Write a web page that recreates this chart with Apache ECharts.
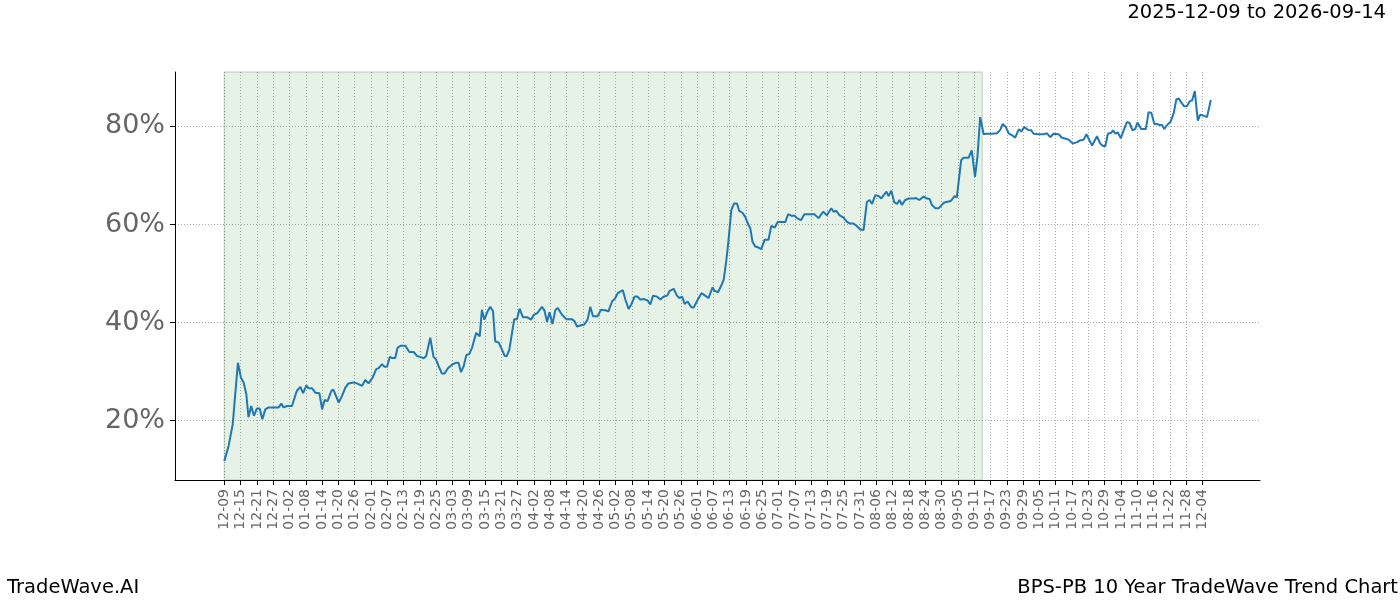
<!DOCTYPE html>
<html>
<head>
<meta charset="utf-8">
<script src="https://cdn.jsdelivr.net/npm/echarts@6/dist/echarts.min.js"></script>
<style>
html,body{margin:0;padding:0;background:#fff;}
#chart{width:1400px;height:600px;}
</style>
</head>
<body>
<div id="chart"></div>
<script>
// Day offsets from 2025-12-09
const days = [0,1.6,3.1,5.0,6.1,7.1,8.1,8.9,9.9,10.9,12.0,13.0,14.0,15.1,16.3,20.0,21.0,21.8,23.1,24.9,
26.7,28.0,29.0,30.2,31.0,32.3,33.5,35.0,36.0,36.9,38.0,39.4,40.2,42.1,43.3,44.5,45.7,47.6,48.8,50.7,
51.9,53.1,54.6,55.9,56.8,58.0,59.0,59.9,60.9,61.7,62.9,63.8,65.0,66.6,68.1,69.7,70.9,72.1,73.4,74.3,
75.8,77.0,77.9,78.9,80.1,81.0,82.3,84.0,85.2,86.2,87.1,88.1,89.1,90.2,91.2,92.7,94.0,94.8,95.7,96.9,
97.9,98.9,99.7,101.0,102.2,103.2,104.0,104.9,105.9,106.7,107.7,108.7,109.9,111.4,112.9,113.8,115.3,116.9,117.8,118.8,
119.7,120.8,121.8,122.7,124.3,125.9,127.9,128.9,129.8,131.0,132.5,133.7,134.7,135.7,137.4,138.6,140.2,141.4,142.7,143.9,
144.8,146.7,147.6,148.8,149.8,151.0,152.1,153.1,154.6,155.8,156.8,157.8,159.2,160.5,161.7,163.0,163.8,165.4,166.6,167.5,
168.5,169.4,170.5,171.8,172.7,174.3,175.6,177.0,178.2,179.7,180.4,181.7,182.8,183.8,184.8,185.6,186.6,187.6,188.7,189.5,
190.7,191.7,192.7,193.6,194.4,195.4,196.6,197.6,198.9,200.3,201.3,202.6,203.7,205.0,206.5,207.5,208.7,209.9,210.8,212.3,
213.5,215.1,217.2,218.7,220.4,221.8,223.4,224.3,225.2,226.4,227.9,229.1,230.3,231.6,232.8,234.0,235.3,236.5,237.5,238.4,
239.6,240.8,241.8,242.7,243.7,244.5,245.5,246.6,247.6,248.5,249.4,250.6,251.9,253.7,254.6,255.8,257.4,258.6,259.6,260.4,
261.7,262.9,264.1,265.0,267.4,268.8,269.6,271.2,272.0,273.9,274.5,275.1,276.3,277.2,278.2,279.5,280.7,282.6,284.4,285.6,
286.5,287.5,288.7,290.0,291.1,292.4,293.4,294.5,295.8,297.0,297.9,299.7,301.6,302.8,304.0,305.2,307.1,308.3,309.8,311.0,
312.3,313.9,315.1,316.3,317.3,318.4,319.4,321.2,322.4,323.4,324.3,325.2,326.4,327.1,328.0,328.8,330.0,331.0,332.2,333.2,
334.3,335.3,336.1,337.4,339.2,340.2,341.2,342.3,343.3,344.3,345.1,346.0,347.0,348.2,349.4,350.4,351.3,352.2,353.3,354.3,
355.3,356.2,357.2,358.3,359.2,360.4,361.7,362.3,363.1];
const values = [11.8,14.9,19.3,31.8,28.8,27.8,25.4,20.7,23.0,21.0,22.5,22.5,20.3,22.3,22.7,22.7,23.5,22.7,23.0,23.0,
26.1,26.9,25.6,27.2,26.6,26.6,25.7,25.6,22.3,24.2,24.0,26.1,26.3,23.7,25.0,26.7,27.6,27.8,27.6,27.1,
28.3,27.6,28.8,30.5,30.7,31.5,31.0,31.0,33.0,32.8,32.8,34.9,35.3,35.3,34.0,34.0,33.2,33.0,32.7,33.2,
36.9,33.0,32.5,31.1,29.6,29.6,30.7,31.5,31.8,31.8,29.9,31.1,33.4,33.6,34.9,37.9,37.2,42.6,40.6,42.3,
43.2,42.3,36.2,35.9,34.5,33.2,33.2,34.5,37.9,40.7,40.7,42.8,41.1,41.1,40.6,41.5,42.0,43.2,42.5,40.1,
42.1,39.7,42.5,43.0,41.6,40.7,40.7,40.3,39.2,39.4,39.6,40.6,43.2,41.3,41.3,42.6,42.5,42.3,44.3,45.0,
46.0,46.6,44.7,42.8,43.7,45.3,45.3,44.7,44.8,44.5,43.7,45.5,45.3,44.7,45.3,45.5,46.4,46.9,45.5,45.0,
45.3,43.8,44.3,43.2,43.0,44.7,46.0,45.5,45.0,47.2,46.5,46.2,47.4,48.7,52.8,56.9,62.9,64.3,64.3,62.8,
62.4,61.6,60.2,59.2,56.5,55.5,55.3,55.0,56.9,56.9,59.7,59.4,60.5,60.5,60.5,62.1,61.8,61.8,61.3,60.9,
62.1,62.1,62.1,61.3,62.6,61.9,63.3,62.6,62.8,61.9,61.4,60.6,60.2,60.2,59.7,59.0,58.9,64.6,65.0,64.2,
66.0,65.8,65.3,66.0,66.7,65.8,66.9,64.5,64.2,65.0,64.0,65.0,65.3,65.3,65.4,65.0,65.7,65.3,65.2,64.0,
63.3,63.3,64.0,64.5,64.8,65.8,65.5,73.1,73.6,73.6,73.7,75.1,69.7,73.8,81.9,78.4,78.5,78.5,78.6,79.3,
80.5,80.0,78.6,78.2,77.7,79.4,79.0,79.9,79.3,79.2,78.5,78.4,78.4,78.6,77.8,78.5,78.4,77.7,77.5,77.2,
76.5,76.8,77.2,77.3,78.4,77.2,76.1,78.0,76.5,76.0,76.0,78.5,78.7,79.2,78.5,78.8,77.6,79.2,80.9,80.7,
79.2,79.5,80.8,79.5,79.5,82.9,82.8,80.5,80.5,80.3,80.3,79.5,80.3,80.9,82.6,85.5,85.7,84.9,84.1,84.1,
85.1,85.3,87.2,81.2,82.4,82.2,81.9,81.9,85.4];

const tickLabels = ['12-09','12-15','12-21','12-27','01-02','01-08','01-14','01-20','01-26','02-01',
'02-07','02-13','02-19','02-25','03-03','03-09','03-15','03-21','03-27','04-02','04-08','04-14',
'04-20','04-26','05-02','05-08','05-14','05-20','05-26','06-01','06-07','06-13','06-19','06-25',
'07-01','07-07','07-13','07-19','07-25','07-31','08-06','08-12','08-18','08-24','08-30','09-05',
'09-11','09-17','09-23','09-29','10-05','10-11','10-17','10-23','10-29','11-04','11-10','11-16',
'11-22','11-28','12-04'];
const tickDays = tickLabels.map((_, i) => i * 6);
const yTicks = [20, 40, 60, 80];
const shadeStart = 0, shadeEnd = 279; // 2025-12-09 .. 2026-09-14
const titleText = '2025-12-09 to 2026-09-14';
const leftFooter = 'TradeWave.AI';
const rightFooter = 'BPS-PB 10 Year TradeWave Trend Chart';

const chart = echarts.init(document.getElementById('chart'), null, {renderer: 'canvas'});
const font = 'DejaVu Sans';
chart.setOption({
  animation: false,
  backgroundColor: '#ffffff',
  grid: {left: 175, right: 140, top: 72, bottom: 120, containLabel: false},
  xAxis: {
    type: 'value',
    min: -18.15,
    max: 381.2,
    axisLine: {show: true, onZero: false, lineStyle: {color: '#000', width: 1}},
    axisTick: {show: true, customValues: tickDays, length: 5, lineStyle: {color: '#000'}},
    axisLabel: {
      show: true, customValues: tickDays, rotate: 90, margin: 9,
      fontFamily: font, fontSize: 14, color: '#666',
      formatter: v => tickLabels[Math.round(v / 6)] || ''
    },
    splitLine: {show: true, lineStyle: {color: '#999', type: [1, 2], width: 0.8}}
  },
  yAxis: {
    type: 'value',
    min: 7.9,
    max: 91.1,
    axisLine: {show: true, onZero: false, lineStyle: {color: '#000', width: 1}},
    axisTick: {show: true, customValues: yTicks, length: 5, lineStyle: {color: '#000'}},
    axisLabel: {
      show: true, customValues: yTicks, margin: 10,
      fontFamily: font, fontSize: 27, color: '#666',
      formatter: v => v + '%'
    },
    splitLine: {show: true, lineStyle: {color: '#999', type: [1, 2], width: 0.8}}
  },
  graphic: [
    {type: 'text', right: 14, top: 3, style: {text: titleText, font: '19.5px "DejaVu Sans"', fill: '#000'}},
    {type: 'text', left: 7, top: 578, style: {text: leftFooter, font: '19.5px "DejaVu Sans"', fill: '#000'}},
    {type: 'text', right: 2, top: 578, style: {text: rightFooter, font: '19.5px "DejaVu Sans"', fill: '#000'}}
  ],
  series: [{
    type: 'line',
    data: days.map((d, i) => [d, values[i]]),
    showSymbol: false,
    symbol: 'none',
    lineStyle: {color: '#1f77b4', width: 2},
    itemStyle: {color: '#1f77b4'},
    z: 5,
    markArea: {
      silent: true,
      itemStyle: {color: 'rgba(0,128,0,0.1)', borderColor: 'rgba(0,60,0,0.15)', borderWidth: 1.5},
      data: [[{xAxis: shadeStart}, {xAxis: shadeEnd}]]
    }
  }]
});
</script>
</body>
</html>
